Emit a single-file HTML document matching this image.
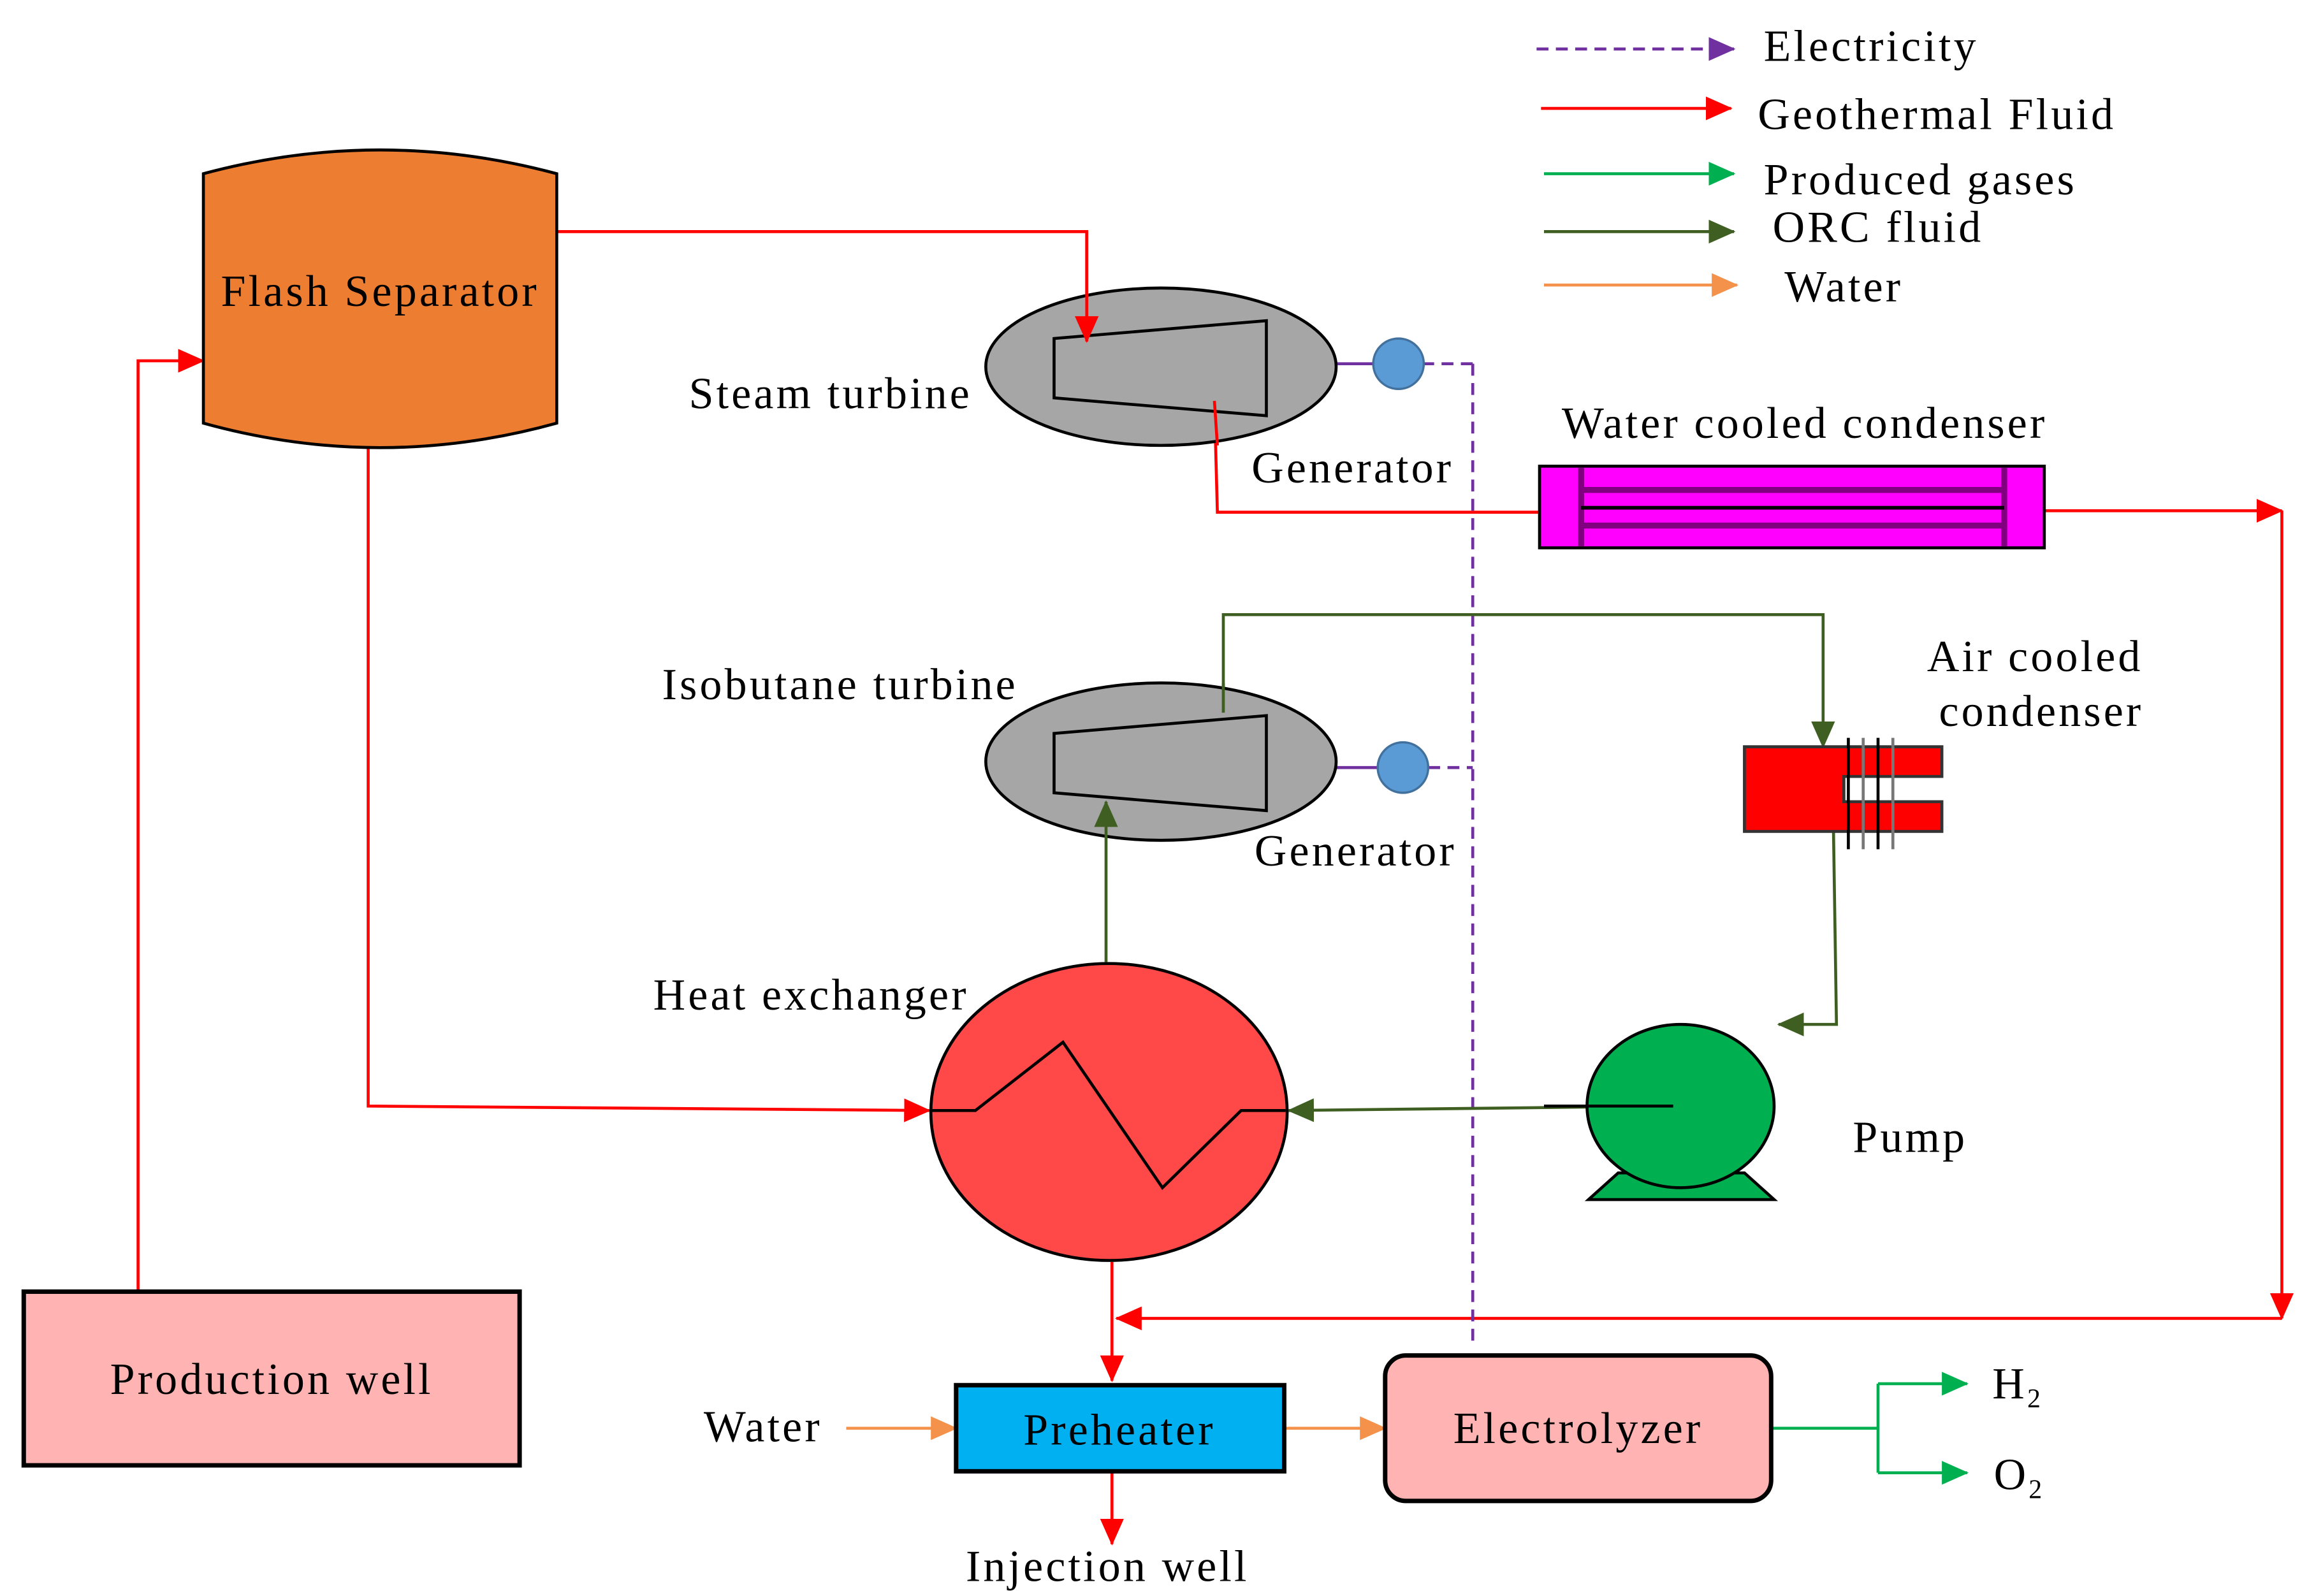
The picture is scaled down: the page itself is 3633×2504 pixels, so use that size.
<!DOCTYPE html>
<html><head><meta charset="utf-8"><style>html,body{margin:0;padding:0;background:#fff}svg{display:block}text{font-family:"Liberation Serif",serif;font-size:30px;letter-spacing:1.8px;fill:#000}</style></head><body>
<svg width="3633" height="2504" viewBox="0 0 1560 1075" preserveAspectRatio="none" xmlns="http://www.w3.org/2000/svg">
<defs>
<marker id="ar" markerWidth="18" markerHeight="16" refX="17" refY="8" orient="auto" markerUnits="userSpaceOnUse" viewBox="0 0 18 16"><path d="M0,0L18,8L0,16z" fill="#f00"/></marker>
<marker id="ag" markerWidth="18" markerHeight="16" refX="17" refY="8" orient="auto" markerUnits="userSpaceOnUse" viewBox="0 0 18 16"><path d="M0,0L18,8L0,16z" fill="#00B050"/></marker>
<marker id="ad" markerWidth="18" markerHeight="16" refX="17" refY="8" orient="auto" markerUnits="userSpaceOnUse" viewBox="0 0 18 16"><path d="M0,0L18,8L0,16z" fill="#3F5F22"/></marker>
<marker id="ao" markerWidth="18" markerHeight="16" refX="17" refY="8" orient="auto" markerUnits="userSpaceOnUse" viewBox="0 0 18 16"><path d="M0,0L18,8L0,16z" fill="#F4914B"/></marker>
<marker id="ap" markerWidth="18" markerHeight="16" refX="17" refY="8" orient="auto" markerUnits="userSpaceOnUse" viewBox="0 0 18 16"><path d="M0,0L18,8L0,16z" fill="#7030A0"/></marker>
</defs>
<g stroke-width="2" fill="none">
<line x1="1035" y1="33" x2="1168" y2="33" stroke="#7030A0" stroke-dasharray="8,5" marker-end="url(#ap)"/>
<line x1="1038" y1="73" x2="1166" y2="73" stroke="#f00" marker-end="url(#ar)"/>
<line x1="1040" y1="117" x2="1168" y2="117" stroke="#00B050" marker-end="url(#ag)"/>
<line x1="1040" y1="156" x2="1168" y2="156" stroke="#3F5F22" marker-end="url(#ad)"/>
<line x1="1040" y1="192" x2="1170" y2="192" stroke="#F4914B" marker-end="url(#ao)"/>
<polyline points="375,156 732,156 732,230" stroke="#f00" marker-end="url(#ar)"/>
<polyline points="818,270 820,345 1037,345" stroke="#f00"/>
<polyline points="1377,344 1537,344" stroke="#f00" marker-end="url(#ar)"/>
<polyline points="1537,344 1537,888" stroke="#f00" marker-end="url(#ar)"/>
<polyline points="1537,888 752,888" stroke="#f00" marker-end="url(#ar)"/>
<polyline points="248,302 248,745 626,748" stroke="#f00" marker-end="url(#ar)"/>
<polyline points="749,850 749,930" stroke="#f00" marker-end="url(#ar)"/>
<polyline points="749,991 749,1040" stroke="#f00" marker-end="url(#ar)"/>
<polyline points="93,870 93,243 137,243" stroke="#f00" marker-end="url(#ar)"/>
<line x1="900" y1="245" x2="925" y2="245" stroke="#7030A0"/>
<line x1="958" y1="245" x2="992" y2="245" stroke="#7030A0" stroke-dasharray="8,5"/>
<line x1="992" y1="245" x2="992" y2="908" stroke="#7030A0" stroke-dasharray="8,5"/>
<line x1="900" y1="517" x2="928" y2="517" stroke="#7030A0"/>
<line x1="962" y1="517" x2="992" y2="517" stroke="#7030A0" stroke-dasharray="8,5"/>
<polyline points="824,480 824,414 1228,414 1228,503" stroke="#3F5F22" marker-end="url(#ad)"/>
<polyline points="1235,560 1237,690 1198,690" stroke="#3F5F22" marker-end="url(#ad)"/>
<polyline points="1127,745 868,748" stroke="#3F5F22" marker-end="url(#ad)"/>
<line x1="570" y1="962" x2="644" y2="962" stroke="#F4914B" marker-end="url(#ao)"/>
<line x1="865" y1="962" x2="933" y2="962" stroke="#F4914B" marker-end="url(#ao)"/>
<polyline points="1193,962 1265,962" stroke="#00B050"/>
<polyline points="1265,932 1265,992" stroke="#00B050"/>
<line x1="1265" y1="932" x2="1325" y2="932" stroke="#00B050" marker-end="url(#ag)"/>
<line x1="1265" y1="992" x2="1325" y2="992" stroke="#00B050" marker-end="url(#ag)"/>
</g>
<path d="M137,117 Q256,85 375,117 L375,285 Q256,318 137,285 Z" fill="#ED7D31" stroke="#000" stroke-width="2"/>
<ellipse cx="782" cy="247" rx="118" ry="53" fill="#A6A6A6" stroke="#000" stroke-width="2"/>
<path d="M710,228 L853,216 L853,280 L710,268 Z" fill="#A6A6A6" stroke="#000" stroke-width="2"/>
<circle cx="942" cy="245" r="17" fill="#5B9BD5" stroke="#41719C" stroke-width="1.5"/>
<polyline points="732,156 732,230" stroke="#f00" stroke-width="2" fill="none" marker-end="url(#ar)"/>
<line x1="818" y1="270" x2="820" y2="300" stroke="#f00" stroke-width="2"/>
<rect x="1037" y="314" width="340" height="55" fill="#FF00FF" stroke="#000" stroke-width="2"/>
<g stroke="#800080" stroke-width="4"><line x1="1065" y1="315" x2="1065" y2="368"/><line x1="1350" y1="315" x2="1350" y2="368"/><line x1="1065" y1="330" x2="1350" y2="330"/><line x1="1065" y1="354" x2="1350" y2="354"/></g>
<line x1="1065" y1="342" x2="1350" y2="342" stroke="#000" stroke-width="2.5"/>
<ellipse cx="782" cy="513" rx="118" ry="53" fill="#A6A6A6" stroke="#000" stroke-width="2"/>
<path d="M710,494 L853,482 L853,546 L710,534 Z" fill="#A6A6A6" stroke="#000" stroke-width="2"/>
<circle cx="945" cy="517" r="17" fill="#5B9BD5" stroke="#41719C" stroke-width="1.5"/>
<polyline points="745,648 745,540" stroke="#3F5F22" stroke-width="2" fill="none" marker-end="url(#ad)"/>
<line x1="824" y1="480" x2="824" y2="460" stroke="#3F5F22" stroke-width="2"/>
<path d="M1175,503 L1308,503 L1308,523 L1242,523 L1242,540 L1308,540 L1308,560 L1175,560 Z" fill="#f00" stroke="#333" stroke-width="2"/>
<g stroke-width="2"><line x1="1245" y1="497" x2="1245" y2="572" stroke="#000"/><line x1="1255" y1="497" x2="1255" y2="572" stroke="#777"/><line x1="1265" y1="497" x2="1265" y2="572" stroke="#000"/><line x1="1275" y1="497" x2="1275" y2="572" stroke="#777"/></g>
<path d="M1090,790 L1175,790 L1195,808 L1070,808 Z" fill="#00B050" stroke="#000" stroke-width="2"/>
<ellipse cx="1132" cy="745" rx="63" ry="55" fill="#00B050" stroke="#000" stroke-width="2"/>
<line x1="1040" y1="745" x2="1127" y2="745" stroke="#000" stroke-width="2"/>
<ellipse cx="747" cy="749" rx="120" ry="100" fill="#FF4848" stroke="#000" stroke-width="2"/>
<polyline points="628,748 657,748 716,702 783,800 836,748 866,748" fill="none" stroke="#000" stroke-width="2"/>
<rect x="644" y="933" width="221" height="58" fill="#00B0F0" stroke="#000" stroke-width="3"/>
<rect x="933" y="913" width="260" height="98" rx="14" fill="#FFB3B3" stroke="#000" stroke-width="3"/>
<rect x="16" y="870" width="334" height="117" fill="#FFB3B3" stroke="#000" stroke-width="3"/>
<text x="1188" y="41">Electricity</text>
<text x="1184" y="87">Geothermal Fluid</text>
<text x="1188" y="131">Produced gases</text>
<text x="1194" y="163">ORC fluid</text>
<text x="1202" y="203">Water</text>
<text x="256" y="206" text-anchor="middle">Flash Separator</text>
<text x="464" y="275">Steam turbine</text>
<text x="843" y="325">Generator</text>
<text x="1052" y="295">Water cooled condenser</text>
<text x="446" y="471">Isobutane turbine</text>
<text x="1298" y="452">Air cooled</text>
<text x="1306" y="489">condenser</text>
<text x="845" y="583">Generator</text>
<text x="440" y="680">Heat exchanger</text>
<text x="1248" y="776">Pump</text>
<text x="183" y="939" text-anchor="middle">Production well</text>
<text x="474" y="971">Water</text>
<text x="754" y="973" text-anchor="middle">Preheater</text>
<text x="1063" y="972" text-anchor="middle">Electrolyzer</text>
<text x="746" y="1065" text-anchor="middle">Injection well</text>
<text x="1342" y="942">H<tspan font-size="18" dy="6">2</tspan></text>
<text x="1343" y="1003">O<tspan font-size="18" dy="6">2</tspan></text>
</svg>
</body></html>
